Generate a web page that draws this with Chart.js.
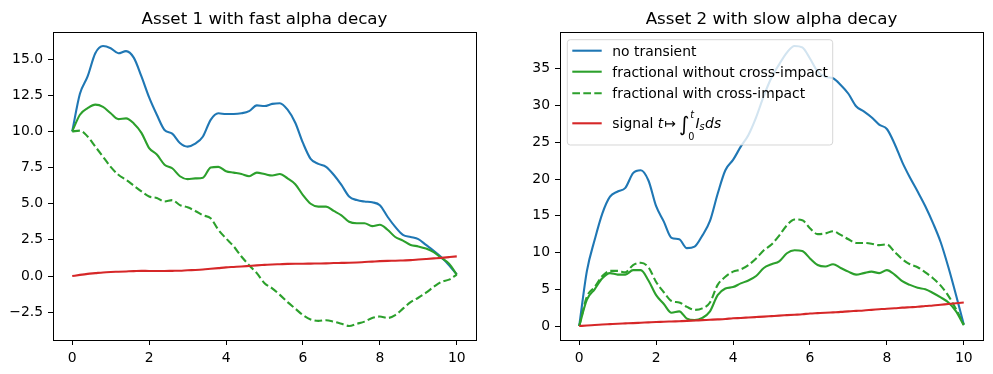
<!DOCTYPE html>
<html>
<head>
<meta charset="utf-8">
<title>Asset alpha decay</title>
<script src="https://cdn.jsdelivr.net/npm/chart.js@4.4.1/dist/chart.umd.min.js"></script>
<style>
  body { margin: 0; background: #fff; }
  #wrap { position: relative; width: 993px; height: 374px; overflow: hidden; }
  canvas { position: absolute; top: 0; }
  #c1 { left: 0; }
  #c2 { left: 500px; }
</style>
</head>
<body>
<div id="wrap">
  <canvas id="c1" width="500" height="374"></canvas>
  <canvas id="c2" width="493" height="374"></canvas>
</div>
<script>
// time grid shared by every series
const t = [
  0, 0.2, 0.4, 0.6, 0.8, 1, 1.2, 1.4, 1.6, 1.8,
  2, 2.2, 2.4, 2.6, 2.8, 3, 3.2, 3.4, 3.6, 3.8,
  4, 4.2, 4.4, 4.6, 4.8, 5, 5.2, 5.4, 5.6, 5.8,
  6, 6.2, 6.4, 6.6, 6.8, 7, 7.2, 7.4, 7.6, 7.8,
  8, 8.2, 8.4, 8.6, 8.8, 9, 9.2, 9.4, 9.6, 9.8, 10,
];

// Asset 1 (fast alpha decay)
const asset1NoTransient = [
  10.0, 12.6, 13.8, 15.4, 15.9, 15.75, 15.4, 15.55, 15.1, 13.8,
  12.35, 11.15, 10.1, 9.85, 9.2, 8.95, 9.15, 9.65, 10.8, 11.25,
  11.2, 11.2, 11.25, 11.4, 11.8, 11.75, 11.9, 11.95, 11.5, 10.6,
  9.2, 8.1, 7.75, 7.55, 7.0, 6.3, 5.5, 5.25, 5.15, 5.1,
  4.9, 4.1, 3.4, 2.85, 2.7, 2.55, 2.15, 1.75, 1.3, 0.75, 0.1,
];
const asset1NoCross = [
  10.0, 11.15, 11.6, 11.85, 11.7, 11.25, 10.85, 10.9, 10.55, 9.9,
  8.85, 8.4, 7.7, 7.45, 6.9, 6.7, 6.75, 6.8, 7.5, 7.55,
  7.25, 7.15, 7.05, 6.9, 7.15, 7.05, 6.95, 7.05, 6.75, 6.35,
  5.6, 5.0, 4.8, 4.8, 4.5, 4.2, 3.75, 3.65, 3.65, 3.45,
  3.55, 3.2, 2.7, 2.45, 2.15, 2.05, 1.9, 1.65, 1.25, 0.85, 0.1,
];
const asset1Cross = [
  10.0, 10.05, 9.65, 8.95, 8.25, 7.55, 7.0, 6.65, 6.25, 5.85,
  5.5, 5.4, 5.15, 5.25, 4.9, 4.75, 4.5, 4.2, 4.0, 3.2,
  2.6, 2.05, 1.35, 0.75, 0.2, -0.5, -0.85, -1.3, -1.8, -2.25,
  -2.7, -3.0, -3.1, -3.05, -3.15, -3.3, -3.45, -3.3, -3.15, -2.9,
  -2.8, -2.9, -2.7, -2.25, -1.8, -1.5, -1.15, -0.75, -0.4, -0.25, 0.1,
];
const asset1Signal = [
  0, 0.08, 0.15, 0.2, 0.25, 0.28, 0.3, 0.32, 0.34, 0.36,
  0.35, 0.35, 0.35, 0.36, 0.37, 0.4, 0.42, 0.45, 0.5, 0.55,
  0.6, 0.63, 0.66, 0.7, 0.74, 0.77, 0.8, 0.82, 0.84, 0.85,
  0.85, 0.86, 0.87, 0.88, 0.9, 0.91, 0.92, 0.94, 0.97, 1.0,
  1.03, 1.05, 1.06, 1.08, 1.1, 1.14, 1.18, 1.22, 1.26, 1.31, 1.36,
];

// Asset 2 (slow alpha decay)
const asset2NoTransient = [
  0, 7.5, 11.7, 15.3, 17.6, 18.3, 18.8, 20.8, 21.2, 19.8,
  16.3, 14.2, 12.0, 11.8, 10.6, 10.8, 12.3, 14.3, 18.0, 21.2,
  22.6, 24.4, 26.0, 28.4, 31.3, 33.8, 35.6, 37.2, 38.1, 37.9,
  36.4, 34.6, 33.9, 33.7, 32.8, 31.6, 29.9, 29.2, 28.4, 27.4,
  26.8, 24.8, 22.3, 20.2, 18.3, 16.3, 14.0, 11.4, 8.0, 4.2, 0.2,
];
const asset2NoCross = [
  0, 3.6, 5.0, 6.5, 7.2, 7.0, 7.0, 7.6, 7.6, 6.2,
  4.2, 3.0, 1.8, 2.0, 1.0, 0.8, 1.1, 2.0, 4.2, 5.1,
  5.3, 5.8, 6.2, 6.8, 7.9, 8.4, 8.8, 9.9, 10.3, 10.2,
  9.2, 8.3, 8.1, 8.4, 7.9, 7.4, 7.0, 7.2, 7.4, 7.2,
  7.6, 7.0, 6.1, 5.6, 5.2, 5.0, 4.5, 3.9, 3.2, 2.0, 0.1,
];
const asset2Cross = [
  0, 4.0, 5.3, 6.8, 7.5, 7.5, 7.3, 8.3, 8.6, 8.0,
  6.0, 4.6, 3.4, 3.2, 2.6, 2.2, 2.4, 3.2, 5.6, 6.7,
  7.4, 7.7, 8.3, 9.2, 10.3, 11.1, 12.3, 13.7, 14.5, 14.4,
  13.3, 12.5, 12.6, 12.9, 12.4, 11.8, 11.3, 11.3, 11.2, 11.0,
  11.1, 10.1, 9.1, 8.4, 8.0, 7.3, 6.5, 5.5, 4.1, 2.3, 0.2,
];
const asset2Signal = [
  0, 0.08, 0.15, 0.2, 0.26, 0.32, 0.36, 0.4, 0.45, 0.5,
  0.55, 0.58, 0.62, 0.66, 0.7, 0.75, 0.8, 0.85, 0.9, 0.96,
  1.05, 1.1, 1.16, 1.22, 1.28, 1.35, 1.42, 1.48, 1.54, 1.6,
  1.7, 1.75, 1.8, 1.86, 1.92, 2.0, 2.06, 2.12, 2.2, 2.28,
  2.36, 2.42, 2.5, 2.56, 2.62, 2.72, 2.8, 2.9, 3.0, 3.1, 3.2,
];

// ticks
const xTicks = [0, 2, 4, 6, 8, 10];
const asset1YTicks = [-2.5, 0, 2.5, 5, 7.5, 10, 12.5, 15];
const asset2YTicks = [0, 5, 10, 15, 20, 25, 30, 35];

const legendLabels = [
  "no transient",
  "fractional without cross-impact",
  "fractional with cross-impact",
  "signal t \u21a6 \u222b\u2080\u1d57 I\u209b ds",
];

const FONT = "DejaVu Sans";
const tickFont = { family: FONT, size: 13.9 };

function series(noTransient, noCross, cross, signal) {
  const pts = (ys) => t.map((x, i) => ({ x, y: ys[i] }));
  const base = { pointRadius: 0, borderWidth: 2.1, cubicInterpolationMode: "monotone", fill: false };
  return [
    { ...base, label: legendLabels[0], data: pts(noTransient), borderColor: "#1f77b4", order: 4 },
    { ...base, label: legendLabels[1], data: pts(noCross), borderColor: "#2ca02c", order: 3 },
    { ...base, label: legendLabels[2], data: pts(cross), borderColor: "#2ca02c", borderDash: [7.7, 3.3], order: 2 },
    { ...base, label: legendLabels[3], data: pts(signal), borderColor: "#d62728", order: 1 },
  ];
}

// minus sign like matplotlib
const fmt1 = (v) => v.toFixed(1).replace("-", "\u2212");
const fmt0 = (v) => String(v);

function scales(yMin, yMax, yTicks, yFmt, yWidth) {
  const grid = { drawOnChartArea: false, drawTicks: true, tickLength: 5, color: "#000", lineWidth: 1 };
  const ticks = { color: "#000", font: tickFont, padding: 5, autoSkip: false, maxRotation: 0 };
  return {
    x: {
      type: "linear", min: -0.5, max: 10.5,
      grid, border: { display: false },
      ticks: { ...ticks, callback: fmt0 },
      afterBuildTicks: (s) => { s.ticks = xTicks.map((v) => ({ value: v })); },
      afterFit: (s) => { s.height = 34; s.paddingLeft = 0; s.paddingRight = 0; },
    },
    y: {
      type: "linear", min: yMin, max: yMax,
      grid, border: { display: false },
      ticks: { ...ticks, callback: yFmt },
      afterBuildTicks: (s) => { s.ticks = yTicks.map((v) => ({ value: v })); },
      afterFit: (s) => { s.width = yWidth; s.paddingTop = 0; s.paddingBottom = 0; },
    },
  };
}

// black box around the axes
const frame = {
  id: "frame",
  afterDraw(chart) {
    const { ctx, chartArea: a } = chart;
    ctx.save();
    ctx.strokeStyle = "#000";
    ctx.lineWidth = 1;
    ctx.strokeRect(a.left + 0.5, a.top + 0.5, a.width, a.height);
    ctx.restore();
  },
};

// math label: signal t -> int_0^t I_s ds
function drawSignalLabel(ctx, x, y) {
  const f = 13.9, sm = 9.7;
  ctx.font = `${f}px "${FONT}"`;
  ctx.fillText("signal ", x, y);
  x += ctx.measureText("signal ").width;
  ctx.font = `italic ${f}px "${FONT}"`;
  ctx.fillText("t", x, y);
  x += ctx.measureText("t").width + 1;
  ctx.font = `${f}px "${FONT}"`;
  ctx.fillText("\u21a6", x, y);
  x += ctx.measureText("\u21a6").width + 3;
  ctx.font = `20px "${FONT}"`;
  ctx.fillText("\u222b", x, y + 3);
  x += ctx.measureText("\u222b").width;
  ctx.font = `italic ${sm}px "${FONT}"`;
  ctx.fillText("t", x + 1, y - 10);
  ctx.font = `${sm}px "${FONT}"`;
  ctx.fillText("0", x - 1, y + 11.5);
  x += ctx.measureText("0").width;
  ctx.font = `italic ${f}px "${FONT}"`;
  ctx.fillText("I", x, y);
  x += ctx.measureText("I").width;
  ctx.font = `italic ${sm}px "${FONT}"`;
  ctx.fillText("s", x, y + 1.5);
  x += ctx.measureText("s").width + 0.5;
  ctx.font = `italic ${f}px "${FONT}"`;
  ctx.fillText("ds", x, y);
}

const mplLegend = {
  id: "mplLegend",
  afterDatasetsDraw(chart) {
    const { ctx, chartArea: a } = chart;
    const x0 = a.left + 7.3, y0 = a.top + 7.7, w = 265.4, h = 105.3;
    const rows = [11, 32, 53.6, 83.6];
    ctx.save();
    ctx.beginPath();
    ctx.roundRect(x0, y0, w, h, 3);
    ctx.fillStyle = "rgba(255,255,255,0.8)";
    ctx.fill();
    ctx.strokeStyle = "rgba(204,204,204,0.8)";
    ctx.lineWidth = 1;
    ctx.stroke();
    chart.data.datasets.forEach((ds, i) => {
      const cy = y0 + rows[i];
      ctx.beginPath();
      ctx.setLineDash(ds.borderDash || []);
      ctx.strokeStyle = ds.borderColor;
      ctx.lineWidth = ds.borderWidth;
      ctx.moveTo(x0 + 5, cy);
      ctx.lineTo(x0 + 34.4, cy);
      ctx.stroke();
    });
    ctx.setLineDash([]);
    ctx.fillStyle = "#000";
    ctx.textBaseline = "alphabetic";
    ctx.font = `13.9px "${FONT}"`;
    for (let i = 0; i < 3; i++) ctx.fillText(legendLabels[i], x0 + 45, y0 + rows[i] + 5);
    drawSignalLabel(ctx, x0 + 45, y0 + rows[3] + 5);
    ctx.restore();
  },
};

function makeChart(id, title, datasets, sc, padRight, extra) {
  return new Chart(document.getElementById(id), {
    type: "line",
    data: { datasets },
    options: {
      responsive: false,
      animation: false,
      layout: { padding: { left: 0, right: padRight, top: 0, bottom: 0 } },
      scales: sc,
      plugins: {
        legend: { display: false },
        tooltip: { enabled: false },
        title: {
          display: true,
          text: title,
          fullSize: false,
          color: "#000",
          font: { family: FONT, size: 16.7, weight: "normal", lineHeight: 1 },
          padding: { top: 11, bottom: 4.3 },
        },
      },
    },
    plugins: [frame].concat(extra),
  });
}

makeChart(
  "c1", "Asset 1 with fast alpha decay",
  series(asset1NoTransient, asset1NoCross, asset1Cross, asset1Signal),
  scales(-4.42, 16.87, asset1YTicks, fmt1, 53), 24, []
);
makeChart(
  "c2", "Asset 2 with slow alpha decay",
  series(asset2NoTransient, asset2NoCross, asset2Cross, asset2Signal),
  scales(-1.9, 40.0, asset2YTicks, fmt0, 60), 10, [mplLegend]
);
</script>
</body>
</html>
